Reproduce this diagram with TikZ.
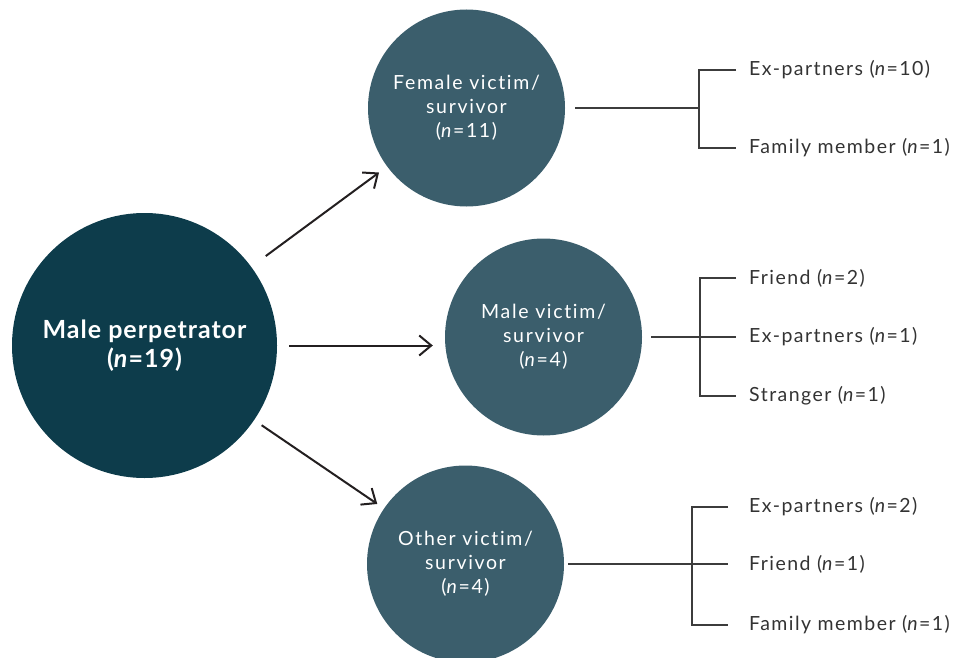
\documentclass[tikz,border=0pt]{standalone}
\usepackage{fontspec}
\setmainfont{Lato}[Ligatures=NoCommon]
\usepackage{tikz}
\usetikzlibrary{arrows.meta, positioning, calc}
\definecolor{perpteal}{HTML}{0D3C4B}
\definecolor{victimteal}{HTML}{3B5E6C}
\definecolor{linedark}{HTML}{231F20}
\definecolor{linegrey}{HTML}{3C3C3C}
\definecolor{labelgrey}{HTML}{333333}
\tikzset{
  perp_circle/.style={circle, fill=perpteal, text=white, minimum size=265pt, inner sep=0pt, align=center, font=\fontsize{25}{29}\selectfont\bfseries\addfontfeatures{LetterSpace=4}},
  victim_circle/.style={circle, fill=victimteal, text=white, minimum size=197pt, inner sep=0pt, align=center, font=\fontsize{19.5}{24}\selectfont\addfontfeatures{LetterSpace=8.5}},
  rel_label/.style={anchor=west, inner sep=0pt, text=labelgrey, font=\fontsize{19.5}{24}\selectfont\addfontfeatures{LetterSpace=7.5}},
  arrow/.style={-{Straight Barb[length=12pt, width=20pt]}, line width=2pt, linedark},
  bracket/.style={-, line width=1.3pt, linegrey}
}

\begin{document}
\begin{tikzpicture}[x=1pt, y=-1pt]

  % --- Canvas ---
  \useasboundingbox (0,0) rectangle (963,658);

  % --- Geometry Definitions ---
  \def\xLabel{749}

  % --- Circles ---
  \node[perp_circle] (perp) at (144.5,345.5) {Male perpetrator\\(\textit{n}=19)};
  \node[victim_circle] (female) at (466.5,108) {Female victim/\\survivor\\(\textit{n}=11)};
  \node[victim_circle] (male) at (543.5,337) {Male victim/\\survivor\\(\textit{n}=4)};
  \node[victim_circle] (other) at (465.5,564) {Other victim/\\survivor\\(\textit{n}=4)};

  % --- Arrows ---
  \draw[arrow, shorten <=18pt, shorten >=10pt] (perp) -- (female);
  \draw[arrow, shorten <=12pt, shorten >=12pt] (perp.east) -- (perp.east -| male.west);
  \draw[arrow, shorten <=9pt, shorten >=8pt] (perp) -- (other);

  % --- Female group ---
  \coordinate (female_j) at (699,108);
  \node[rel_label] (female_a) at (\xLabel,70) {Ex-partners (\textit{n}=10)};
  \node[rel_label] (female_b) at (\xLabel,148) {Family member (\textit{n}=1)};
  \draw[bracket, shorten <=10pt] (female.east) -- (female_j);
  \draw[bracket] ([xshift=-13pt]female_a.west) -| (female_j) |- ([xshift=-13pt]female_b.west);

  % --- Male group ---
  \coordinate (male_j) at (700,337);
  \node[rel_label] (male_a) at (\xLabel,278) {Friend (\textit{n}=2)};
  \node[rel_label] (male_b) at (\xLabel,337) {Ex-partners (\textit{n}=1)};
  \node[rel_label] (male_c) at (\xLabel,396) {Stranger (\textit{n}=1)};
  \draw[bracket, shorten <=9pt] (male.east) -- ([xshift=-13pt]male_b.west);
  \draw[bracket] ([xshift=-13pt]male_a.west) -| (male_j) |- ([xshift=-13pt]male_c.west);

  % --- Other group ---
  \coordinate (other_j) at (692,564);
  \node[rel_label] (other_a) at (\xLabel,507) {Ex-partners (\textit{n}=2)};
  \node[rel_label] (other_b) at (\xLabel,564) {Friend (\textit{n}=1)};
  \node[rel_label] (other_c) at (\xLabel,625) {Family member (\textit{n}=1)};
  \draw[bracket, shorten <=4pt] (other.east) -- ([xshift=-21pt]other_b.west);
  \draw[bracket] ([xshift=-21pt]other_a.west) -| (other_j) |- ([xshift=-21pt]other_c.west);

\end{tikzpicture}
\end{document}
